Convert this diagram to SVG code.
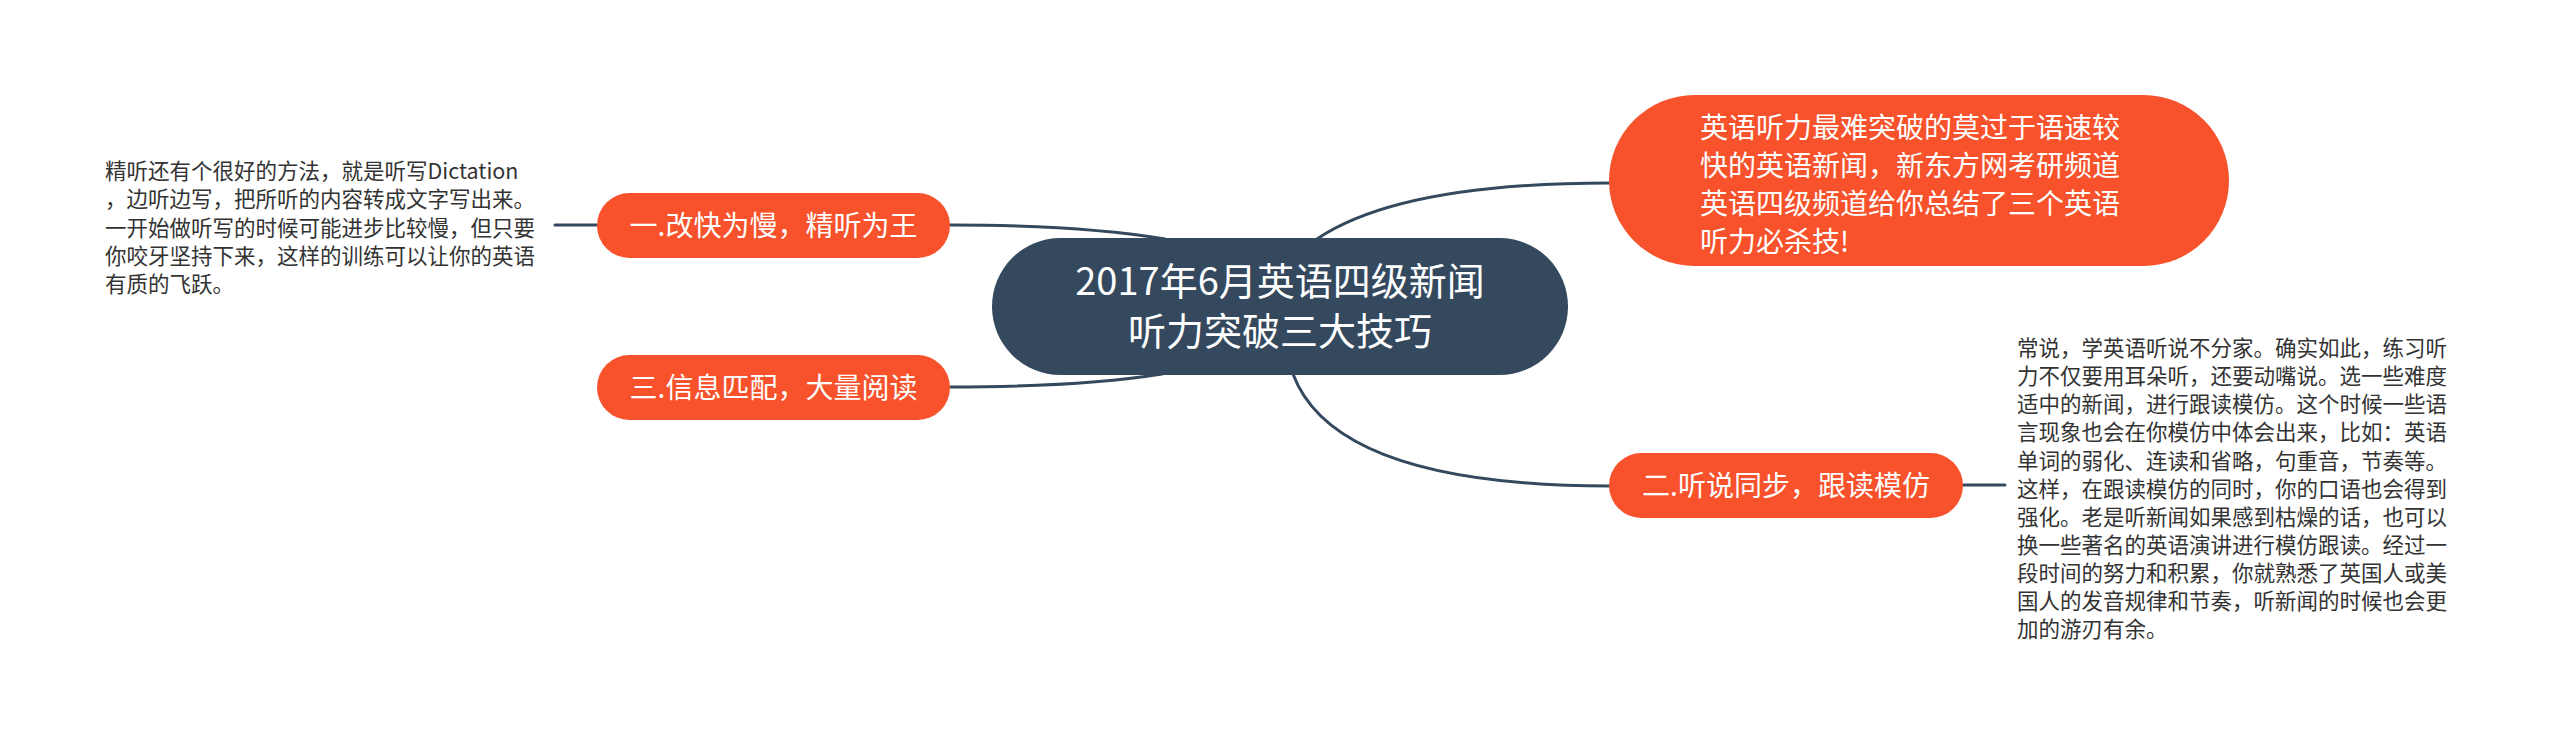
<svg xmlns="http://www.w3.org/2000/svg" width="2560" height="747" viewBox="0 0 2560 747">
<style>
.edge{fill:none;stroke:#34495e;stroke-width:3;stroke-linecap:round}
.t{font-family:"Noto Sans CJK SC","Noto Sans",sans-serif}
.main{fill:#34495e}
.sub{fill:#f7522b}
.wt{fill:#ffffff}
.lf{fill:#333333;font-size:21.5px}
</style>
<rect width="2560" height="747" fill="#ffffff"/>
<g id="connectors">
<path class="edge" d="M950,225 Q1080,225 1165,239"/>
<path class="edge" d="M950,387 Q1080,387 1162,374"/>
<path class="edge" d="M1317,239 Q1400,183 1610,183"/>
<path class="edge" d="M1293,374 Q1335,486 1610,486"/>
<path class="edge" d="M555,225 L597,225"/>
<path class="edge" d="M1963,485 L2005,485"/>
</g>
<g id="center">
<rect class="main" x="992" y="238" width="576" height="137" rx="68.5"/>
<text class="t wt" font-size="38" text-anchor="middle" x="1280" y="295">2017年6月英语四级新闻</text>
<text class="t wt" font-size="38" text-anchor="middle" x="1280" y="345">听力突破三大技巧</text>
</g>
<g id="intro">
<rect class="sub" x="1609" y="95" width="620" height="171" rx="85.5"/>
<text class="t wt" font-size="28" x="1700" y="138">英语听力最难突破的莫过于语速较</text>
<text class="t wt" font-size="28" x="1700" y="176">快的英语新闻，新东方网考研频道</text>
<text class="t wt" font-size="28" x="1700" y="214">英语四级频道给你总结了三个英语</text>
<text class="t wt" font-size="28" x="1700" y="252">听力必杀技!</text>
</g>
<g id="tip1">
<rect class="sub" x="597" y="193" width="353" height="65" rx="32.5"/>
<text class="t wt" font-size="28" text-anchor="middle" x="773.5" y="236">一.改快为慢，精听为王</text>
</g>
<g id="tip3">
<rect class="sub" x="597" y="355" width="353" height="65" rx="32.5"/>
<text class="t wt" font-size="28" text-anchor="middle" x="773.5" y="398">三.信息匹配，大量阅读</text>
</g>
<g id="tip2">
<rect class="sub" x="1609" y="453" width="354" height="65" rx="32.5"/>
<text class="t wt" font-size="28" text-anchor="middle" x="1786" y="496">二.听说同步，跟读模仿</text>
</g>
<g id="tip1-detail">
<text class="t lf" x="105" y="179">精听还有个很好的方法，就是听写Dictation</text>
<text class="t lf" x="105" y="207">，边听边写，把所听的内容转成文字写出来。</text>
<text class="t lf" x="105" y="236">一开始做听写的时候可能进步比较慢，但只要</text>
<text class="t lf" x="105" y="264">你咬牙坚持下来，这样的训练可以让你的英语</text>
<text class="t lf" x="105" y="292">有质的飞跃。</text>
</g>
<g id="tip2-detail">
<text class="t lf" x="2017" y="356">常说，学英语听说不分家。确实如此，练习听</text>
<text class="t lf" x="2017" y="384">力不仅要用耳朵听，还要动嘴说。选一些难度</text>
<text class="t lf" x="2017" y="412">适中的新闻，进行跟读模仿。这个时候一些语</text>
<text class="t lf" x="2017" y="440">言现象也会在你模仿中体会出来，比如：英语</text>
<text class="t lf" x="2017" y="469">单词的弱化、连读和省略，句重音，节奏等。</text>
<text class="t lf" x="2017" y="497">这样，在跟读模仿的同时，你的口语也会得到</text>
<text class="t lf" x="2017" y="525">强化。老是听新闻如果感到枯燥的话，也可以</text>
<text class="t lf" x="2017" y="553">换一些著名的英语演讲进行模仿跟读。经过一</text>
<text class="t lf" x="2017" y="581">段时间的努力和积累，你就熟悉了英国人或美</text>
<text class="t lf" x="2017" y="609">国人的发音规律和节奏，听新闻的时候也会更</text>
<text class="t lf" x="2017" y="637">加的游刃有余。</text>
</g>
</svg>
